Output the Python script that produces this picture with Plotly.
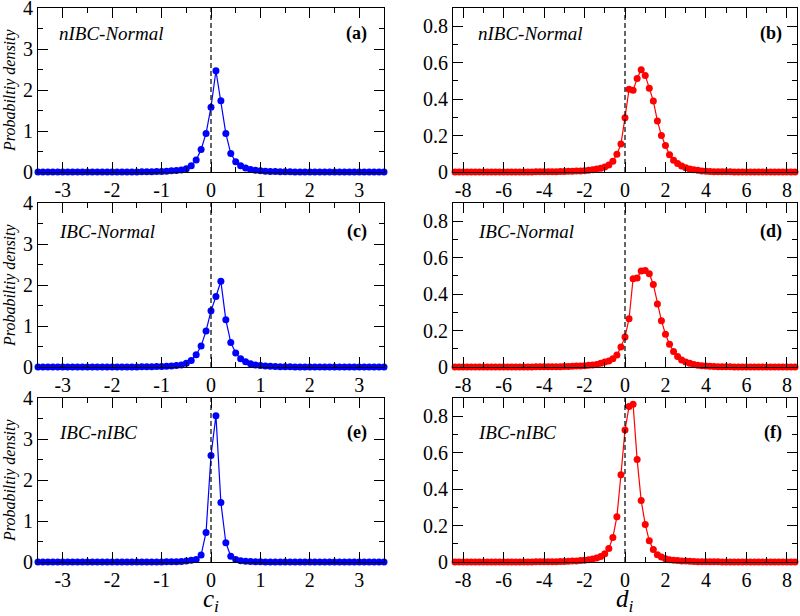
import plotly.graph_objects as go

# ---------------- data ----------------
# c grid: -3.5 .. 3.5 step 0.1 (71 pts); d grid: -8.4 .. 8.4 step 0.2 (85 pts)
c_vals = [round(-3.5 + 0.1 * k, 1) for k in range(71)]
d_vals = [round(-8.4 + 0.2 * k, 1) for k in range(85)]

# (a) nIBC-Normal, c_i
pa = [0.0, 0.0, 0.0, 0.0, 0.0, 0.0, 0.0, 0.0, 0.0, 0.0,
      0.0, 0.0, 0.0, 0.0, 0.0, 0.001, 0.001, 0.001, 0.002, 0.002,
      0.003, 0.004, 0.006, 0.008, 0.011, 0.015, 0.02, 0.028, 0.038, 0.05,
      0.08, 0.15, 0.29, 0.55, 0.94,
      1.58,
      2.47, 1.74, 0.94, 0.45, 0.25, 0.15, 0.10, 0.06, 0.04, 0.028,
      0.02, 0.014, 0.01, 0.007, 0.005, 0.004, 0.003, 0.002, 0.002, 0.001,
      0.001, 0.001, 0.0, 0.0, 0.0, 0.0, 0.0, 0.0, 0.0, 0.0,
      0.0, 0.0, 0.0, 0.0, 0.0]
# (c) IBC-Normal, c_i
pc = [0.0, 0.0, 0.0, 0.0, 0.0, 0.0, 0.0, 0.0, 0.0, 0.0,
      0.0, 0.0, 0.0, 0.0, 0.0, 0.001, 0.001, 0.001, 0.002, 0.002,
      0.003, 0.004, 0.005, 0.007, 0.01, 0.013, 0.018, 0.025, 0.035, 0.05,
      0.09, 0.16, 0.30, 0.51, 0.88,
      1.37,
      1.72, 2.09, 1.15, 0.60, 0.34, 0.20, 0.13, 0.08, 0.05, 0.035,
      0.025, 0.018, 0.012, 0.009, 0.006, 0.004, 0.003, 0.002, 0.002, 0.001,
      0.001, 0.001, 0.0, 0.0, 0.0, 0.0, 0.0, 0.0, 0.0, 0.0,
      0.0, 0.0, 0.0, 0.0, 0.0]
# (e) IBC-nIBC, c_i
pe = [0.0, 0.0, 0.0, 0.0, 0.0, 0.0, 0.0, 0.0, 0.0, 0.0,
      0.0, 0.0, 0.0, 0.0, 0.0, 0.0, 0.0, 0.0, 0.0, 0.0,
      0.0, 0.001, 0.001, 0.002, 0.002, 0.003, 0.004, 0.006, 0.009, 0.014,
      0.025, 0.04, 0.06, 0.17, 0.72,
      2.6,
      3.57, 1.45, 0.47, 0.14, 0.06, 0.03, 0.018, 0.011, 0.007, 0.005,
      0.003, 0.002, 0.001, 0.001, 0.0, 0.0, 0.0, 0.0, 0.0, 0.0,
      0.0, 0.0, 0.0, 0.0, 0.0, 0.0, 0.0, 0.0, 0.0, 0.0,
      0.0, 0.0, 0.0, 0.0, 0.0]

# (b) nIBC-Normal, d_i
pb = [0.0, 0.0, 0.0, 0.0, 0.0, 0.0, 0.0, 0.0, 0.0, 0.0, 0.0,
      0.0, 0.0, 0.0, 0.0, 0.0, 0.0, 0.0, 0.0, 0.0, 0.001, 0.001,
      0.001, 0.001, 0.002, 0.002, 0.003, 0.003, 0.004, 0.004, 0.005, 0.006,
      0.007, 0.009, 0.012, 0.016, 0.021, 0.028, 0.039, 0.059, 0.097, 0.153,
      0.298,
      0.454, 0.448, 0.513, 0.561, 0.53, 0.46, 0.39, 0.28, 0.20, 0.145,
      0.095, 0.064, 0.046, 0.033, 0.024, 0.017, 0.012, 0.009, 0.006, 0.004,
      0.003, 0.002, 0.002, 0.001, 0.001,
      0.001, 0.0, 0.0, 0.0, 0.0, 0.0, 0.0, 0.0, 0.0, 0.0,
      0.0, 0.0, 0.0, 0.0, 0.0, 0.0, 0.0]
# (d) IBC-Normal, d_i
pd_ = [0.0, 0.0, 0.0, 0.0, 0.0, 0.0, 0.0, 0.0, 0.0, 0.0, 0.0,
       0.0, 0.0, 0.0, 0.0, 0.0, 0.0, 0.0, 0.0, 0.0, 0.001, 0.001,
       0.001, 0.001, 0.001, 0.002, 0.002, 0.003, 0.003, 0.004, 0.005, 0.006,
       0.007, 0.009, 0.011, 0.014, 0.02, 0.027, 0.033, 0.045, 0.066, 0.11,
       0.165,
       0.265, 0.484, 0.488, 0.527, 0.53, 0.512, 0.453, 0.346, 0.254, 0.18,
       0.125, 0.085, 0.057, 0.039, 0.028, 0.02, 0.014, 0.01, 0.007, 0.005,
       0.004, 0.003, 0.002, 0.001, 0.001,
       0.001, 0.0, 0.0, 0.0, 0.0, 0.0, 0.0, 0.0, 0.0, 0.0,
       0.0, 0.0, 0.0, 0.0, 0.0, 0.0, 0.0]
# (f) IBC-nIBC, d_i
pf = [0.0, 0.0, 0.0, 0.0, 0.0, 0.0, 0.0, 0.0, 0.0, 0.0, 0.0,
      0.0, 0.0, 0.0, 0.0, 0.0, 0.0, 0.0, 0.0, 0.0, 0.001, 0.001,
      0.001, 0.001, 0.002, 0.002, 0.003, 0.003, 0.004, 0.005, 0.006, 0.008,
      0.01, 0.013, 0.017, 0.022, 0.03, 0.045, 0.074, 0.134, 0.249, 0.479,
      0.724,
      0.853, 0.866, 0.562, 0.337, 0.206, 0.116, 0.068, 0.04, 0.028, 0.018,
      0.013, 0.01, 0.008, 0.006, 0.005, 0.004, 0.003, 0.002, 0.002, 0.001,
      0.001, 0.001, 0.001, 0.0, 0.0,
      0.0, 0.0, 0.0, 0.0, 0.0, 0.0, 0.0, 0.0, 0.0, 0.0,
      0.0, 0.0, 0.0, 0.0, 0.0, 0.0, 0.0]

c_tickvals = [-3, -2, -1, 0, 1, 2, 3]
c_ticktext = ["-3", "-2", "-1", "0", "1", "2", "3"]
d_tickvals = [-8, -6, -4, -2, 0, 2, 4, 6, 8]
d_ticktext = ["-8", "-6", "-4", "-2", "0", "2", "4", "6", "8"]
pc_tickvals = [0, 1, 2, 3, 4]
pd_tickvals = [0, 0.2, 0.4, 0.6, 0.8]
pd_ticktext = ["0", "0.2", "0.4", "0.6", "0.8"]

panel_titles = ["nIBC-Normal", "nIBC-Normal", "IBC-Normal", "IBC-Normal", "IBC-nIBC", "IBC-nIBC"]
panel_tags = ["(a)", "(b)", "(c)", "(d)", "(e)", "(f)"]

BLUE = "#0000ff"
RED = "#ff0000"
FONT = "Liberation Serif"
W, H = 800, 616

def px(x):
    return x / W

def py(y):
    return 1 - y / H

# pixel layout of panels
col_px = [(38, 384), (453, 797)]
row_px = [(8, 172), (203, 367), (398, 562)]

fig = go.Figure()

series = [(c_vals, pa, BLUE), (d_vals, pb, RED),
          (c_vals, pc, BLUE), (d_vals, pd_, RED),
          (c_vals, pe, BLUE), (d_vals, pf, RED)]

layout_axes = {}
for i, (xs, ys, col) in enumerate(series):
    n = i + 1
    r, cidx = divmod(i, 2)
    xa = "x" if n == 1 else f"x{n}"
    ya = "y" if n == 1 else f"y{n}"
    fig.add_trace(go.Scatter(x=xs, y=ys, mode="lines+markers",
                             line=dict(color=col, width=1.2),
                             marker=dict(color=col, size=7),
                             xaxis=xa, yaxis=ya, showlegend=False, cliponaxis=False))
    x0, x1 = col_px[cidx]
    y0, y1 = row_px[r]
    left = cidx == 0
    common = dict(showline=True, linecolor="black", linewidth=1, mirror="ticks",
                  ticks="inside", ticklen=10, tickwidth=1, tickcolor="black",
                  showgrid=False, zeroline=False, automargin=False,
                  ticklabeloverflow="allow",
                  tickfont=dict(family=FONT, size=20, color="black"))
    xaxis = dict(common, domain=[px(x0), px(x1)], anchor=ya,
                 range=[-3.5, 3.5] if left else [-8.5, 8.5],
                 tickmode="array",
                 tickvals=c_tickvals if left else d_tickvals,
                 ticktext=c_ticktext if left else d_ticktext,
                 minor=dict(ticks="inside", ticklen=5, tickwidth=1, tickcolor="black",
                            dtick=0.5 if left else 1, tick0=0, showgrid=False))
    yaxis = dict(common, domain=[py(y1), py(y0)], anchor=xa,
                 range=[0, 4] if left else [0, 0.9],
                 tickmode="array",
                 tickvals=pc_tickvals if left else pd_tickvals,
                 ticktext=[str(v) for v in pc_tickvals] if left else pd_ticktext,
                 minor=dict(ticks="inside", ticklen=5, tickwidth=1, tickcolor="black",
                            dtick=0.5 if left else 0.1, tick0=0, showgrid=False))
    layout_axes["xaxis" if n == 1 else f"xaxis{n}"] = xaxis
    layout_axes["yaxis" if n == 1 else f"yaxis{n}"] = yaxis

    # dashed zero line
    fig.add_shape(type="line", xref=xa, yref=f"{ya} domain", x0=0, x1=0, y0=0, y1=1,
                  line=dict(color="black", width=1.2, dash="5px,3px"))

fig.update_layout(**layout_axes)

annotations = []
title_y = [33, 231, 432]
for i in range(6):
    r, cidx = divmod(i, 2)
    ty = title_y[r]
    tx = 57 if cidx == 0 else 476
    annotations.append(dict(xref="paper", yref="paper", x=px(tx), y=py(ty),
                            xanchor="left", yanchor="middle", showarrow=False,
                            text=f"<i>{panel_titles[i]}</i>",
                            font=dict(family=FONT, size=19, color="black")))
    rx = 369 if cidx == 0 else 784
    annotations.append(dict(xref="paper", yref="paper", x=px(rx), y=py(ty),
                            xanchor="right", yanchor="middle", showarrow=False,
                            text=f"<b>{panel_tags[i]}</b>",
                            font=dict(family=FONT, size=18, color="black")))
    if cidx == 0:
        yc = (row_px[r][0] + row_px[r][1]) / 2
        annotations.append(dict(xref="paper", yref="paper", x=px(10), y=py(yc),
                                xanchor="center", yanchor="middle", showarrow=False,
                                textangle=-90, text="<i>Probabiltiy density</i>",
                                font=dict(family=FONT, size=16, color="black")))

annotations.append(dict(xref="paper", yref="paper", x=px(211), y=py(600),
                        xanchor="center", yanchor="middle", showarrow=False,
                        text="<i>c<sub>i</sub></i>",
                        font=dict(family=FONT, size=25, color="black")))
annotations.append(dict(xref="paper", yref="paper", x=px(625), y=py(600),
                        xanchor="center", yanchor="middle", showarrow=False,
                        text="<i>d<sub>i</sub></i>",
                        font=dict(family=FONT, size=25, color="black")))

fig.update_layout(annotations=annotations, width=W, height=H,
                  margin=dict(l=0, r=0, t=0, b=0),
                  paper_bgcolor="white", plot_bgcolor="white",
                  template=None, showlegend=False)

fig.write_html("out.html", config={"displayModeBar": False},
               post_script="document.body.style.margin='0';")
